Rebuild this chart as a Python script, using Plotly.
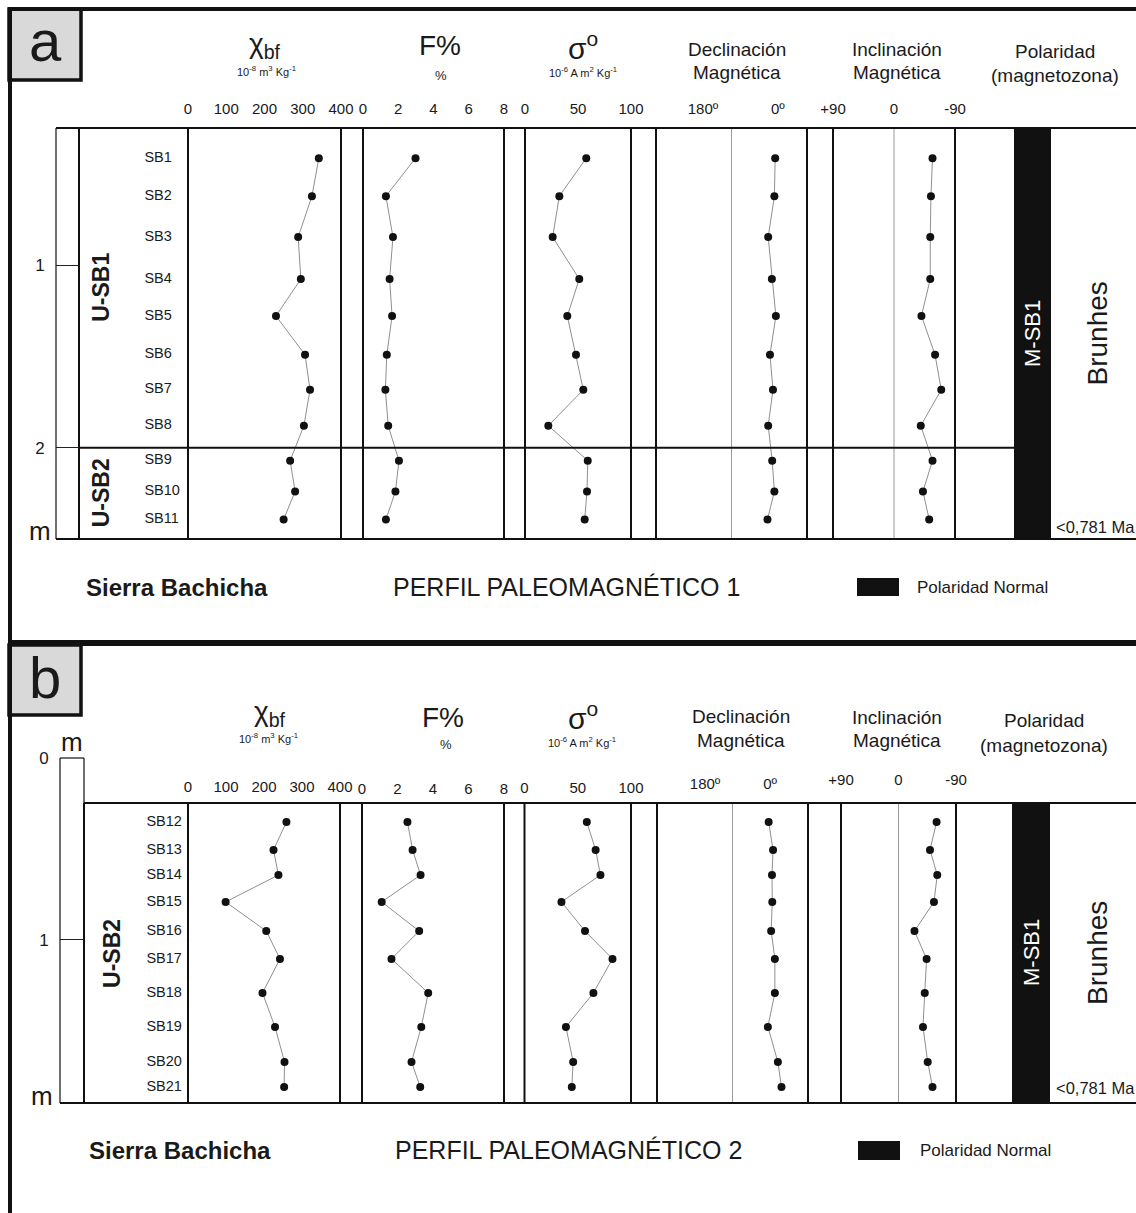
import plotly.graph_objects as go

# ---------------- data ----------------
# Panel a : Perfil paleomagnético 1
samples_a = ["SB1", "SB2", "SB3", "SB4", "SB5", "SB6", "SB7", "SB8", "SB9", "SB10", "SB11"]
depth_a = [0.415, 0.623, 0.847, 1.077, 1.279, 1.492, 1.683, 1.880, 2.071, 2.240, 2.393]
chi_a = [342, 324, 288, 295, 230, 306, 319, 303, 267, 280, 250]
f_a = [2.98, 1.30, 1.70, 1.51, 1.65, 1.35, 1.27, 1.43, 2.04, 1.84, 1.30]
sigma_a = [57.8, 32.4, 26.1, 51.2, 39.9, 48.1, 55.0, 22.0, 59.2, 58.5, 56.3]
dec_a = [6.5, 8.4, 23.3, 14.4, 4.8, 19.0, 11.8, 23.3, 13.7, 8.4, 25.0]
inc_a = [-56.8, -54.5, -53.5, -53.5, -40.5, -60.6, -69.7, -39.5, -56.8, -42.7, -51.9]
units_a = ["U-SB1", "U-SB2"]
unit_top_a = [0.25, 2.0]
unit_base_a = [2.0, 2.5]

# Panel b : Perfil paleomagnético 2
samples_b = ["SB12", "SB13", "SB14", "SB15", "SB16", "SB17", "SB18", "SB19", "SB20", "SB21"]
depth_b = [0.352, 0.505, 0.643, 0.791, 0.951, 1.104, 1.291, 1.478, 1.670, 1.808]
chi_b = [259, 225, 238, 99, 206, 242, 196, 229, 254, 253]
f_b = [2.56, 2.85, 3.30, 1.11, 3.22, 1.66, 3.73, 3.34, 2.79, 3.28]
sigma_b = [58.5, 66.8, 71.3, 34.7, 56.8, 82.6, 64.7, 38.9, 45.7, 44.4]
dec_b = [3.9, -8.3, -5.3, -6.1, -3.0, -13.3, -13.3, 6.1, -21.6, -31.6]
inc_b = [-59.6, -49.3, -60.7, -55.5, -25.0, -44.0, -41.1, -38.3, -45.7, -53.2]
units_b = ["U-SB2"]
unit_top_b = [0.247]
unit_base_b = [1.896]

# magnetozone / polarity
zone_name = "M-SB1"
chron_name = "Brunhes"
chron_age = "<0,781 Ma"

# tick labels
chi_ticks = [0, 100, 200, 300, 400]
f_ticks = [0, 2, 4, 6, 8]
sigma_ticks = [0, 50, 100]
dec_ticks = [180, 0]
dec_ticktext = ["180º", "0º"]
inc_ticks = [90, 0, -90]
inc_ticktext = ["+90", "0", "-90"]

# ---------------- figure helpers ----------------
W, H = 1136, 1213
FONT = "Liberation Sans, Arial, sans-serif"
INK = "#1a1a1a"


def fx(x):
    return x / W


def fy(y):
    return 1 - y / H


fig = go.Figure()
axes = {}
shapes = []
annotations = []
count = [0]


def add_axes(xpx, ypx, xrange, yrange, xextra=None, yextra=None):
    count[0] += 1
    s = "" if count[0] == 1 else str(count[0])
    base = dict(showgrid=False, zeroline=False, showline=False,
                showticklabels=False, ticks="", fixedrange=True, automargin=False)
    xa = dict(base, domain=[fx(xpx[0]), fx(xpx[1])], range=list(xrange), anchor="y" + s)
    ya = dict(base, domain=[fy(ypx[1]), fy(ypx[0])], range=list(yrange), anchor="x" + s)
    if xextra:
        xa.update(xextra)
    if yextra:
        ya.update(yextra)
    axes["xaxis" + s] = xa
    axes["yaxis" + s] = ya
    return "x" + s, "y" + s


def hline(y, x0, x1, w=2.0, c="#111"):
    shapes.append(dict(type="line", xref="paper", yref="paper", x0=fx(x0), x1=fx(x1),
                       y0=fy(y), y1=fy(y), line=dict(color=c, width=w)))


def vline(x, y0, y1, w=2.0, c="#111"):
    shapes.append(dict(type="line", xref="paper", yref="paper", x0=fx(x), x1=fx(x),
                       y0=fy(y0), y1=fy(y1), line=dict(color=c, width=w)))


def ann(x, y, text, size, bold=False, color=INK, xanchor="center"):
    annotations.append(dict(
        x=fx(x), xref="paper", y=fy(y), yref="paper",
        text="<b>%s</b>" % text if bold else text, showarrow=False,
        xanchor=xanchor, yanchor="middle",
        font=dict(family=FONT, size=size, color=color)))


def rot_ann(xpx, ydata, yref, text, size, color=INK):
    annotations.append(dict(x=fx(xpx), xref="paper", y=ydata, yref=yref, text=text,
                            showarrow=False, textangle=-90, xanchor="center", yanchor="middle",
                            font=dict(family=FONT, size=size, color=color)))


panels = [
    dict(label="a", box=(9, 81, 9, 80), lab_y=40,
         samples=samples_a, depth=depth_a, chi=chi_a, f=f_a, sig=sigma_a, dec=dec_a, inc=inc_a,
         units=units_a, utop=unit_top_a, ubase=unit_base_a,
         top=128, bot=539, dtop=128, dcol=(56, 79), ucol=(79, 188),
         cols=dict(chi=(188, 341), f=(363, 504), sig=(525, 631), dec=(656, 807), inc=(833, 955)),
         gaps=dict(chi=20, f=20, sig=20, dec=20, inc=20),
         bar=(1015, 1050), depth_top=0.25, depth_bot=2.5, dcol_top=0.25,
         dticks=[1, 2], dec_range=(293, -70), ulab_x=101, samp_x=0.6,
         heads=[(265, 46, "χ<sub>bf</sub>", 28), (266, 71, "10<sup>-8</sup> m<sup>3</sup> Kg<sup>-1</sup>", 11),
                (440, 46, "F%", 28), (441, 75, "%", 13),
                (583, 46, "σ<sup>o</sup>", 30), (583, 72, "10<sup>-6</sup> A m<sup>2</sup> Kg<sup>-1</sup>", 11),
                (737, 49, "Declinación", 19), (737, 72, "Magnética", 19),
                (897, 49, "Inclinación", 19), (897, 72, "Magnética", 19),
                (1055, 52, "Polaridad", 19), (1055, 76, "(magnetozona)", 19)],
         profile="PERFIL PALEOMAGNÉTICO 1", foot_y=587, sierra_x=177, prof_x=566,
         leg=(857, 899, 578, 596), leg_x=915, age_y=527,
         mlabels=[(40, 531, "m", 26)]),
    dict(label="b", box=(9, 81, 645, 715), lab_y=677,
         samples=samples_b, depth=depth_b, chi=chi_b, f=f_b, sig=sigma_b, dec=dec_b, inc=inc_b,
         units=units_b, utop=unit_top_b, ubase=unit_base_b,
         top=803, bot=1103, dtop=758, dcol=(60, 84), ucol=(84, 188),
         cols=dict(chi=(188, 340), f=(362, 504), sig=(524.5, 631), dec=(657, 808), inc=(841, 956)),
         gaps=dict(chi=17, f=15, sig=16, dec=20, inc=24),
         bar=(1013, 1049), depth_top=0.2473, depth_bot=1.896, dcol_top=0.0,
         dticks=[0, 1], dec_range=(313, -105), ulab_x=112, samp_x=0.6,
         heads=[(270, 713, "χ<sub>bf</sub>", 28), (268, 738, "10<sup>-8</sup> m<sup>3</sup> Kg<sup>-1</sup>", 11),
                (443, 718, "F%", 28), (446, 744, "%", 13),
                (583, 716, "σ<sup>o</sup>", 30), (582, 742, "10<sup>-6</sup> A m<sup>2</sup> Kg<sup>-1</sup>", 11),
                (741, 716, "Declinación", 19), (741, 740, "Magnética", 19),
                (897, 717, "Inclinación", 19), (897, 740, "Magnética", 19),
                (1044, 720, "Polaridad", 19), (1044, 745, "(magnetozona)", 19)],
         profile="PERFIL PALEOMAGNÉTICO 2", foot_y=1150, sierra_x=180, prof_x=568,
         leg=(858, 900, 1141, 1160), leg_x=918, age_y=1088,
         mlabels=[(72, 742, "m", 26), (42, 1096, "m", 26)]),
]

TICKFONT = dict(family=FONT, size=15, color=INK)


def draw_panel(p):
    top, bot = p["top"], p["bot"]
    yr = [p["depth_bot"], p["depth_top"]]

    # depth scale column (axis with the metre ticks)
    dx, dy = add_axes(p["dcol"], (p["dtop"], bot), (0, 1), [p["depth_bot"], p["dcol_top"]],
                      yextra=dict(showticklabels=True, tickvals=p["dticks"],
                                  ticktext=[str(v) for v in p["dticks"]],
                                  tickfont=dict(family=FONT, size=17, color=INK),
                                  ticks="outside", ticklen=7, tickcolor="rgba(0,0,0,0)",
                                  showgrid=True, gridcolor="#222", gridwidth=1.2))
    fig.add_trace(go.Scatter(x=[None], y=[None], mode="markers", xaxis=dx, yaxis=dy,
                             hoverinfo="skip", showlegend=False))

    # unit / sample column
    ux, uy = add_axes(p["ucol"], (top, bot), (0, 1), yr)
    fig.add_trace(go.Scatter(x=[p["samp_x"]] * len(p["samples"]), y=p["depth"], mode="text",
                             text=p["samples"], textposition="middle right",
                             textfont=dict(family=FONT, size=14.5, color=INK),
                             xaxis=ux, yaxis=uy, hoverinfo="skip"))

    cols = [("chi", p["chi"], (0, 400), chi_ticks, [str(v) for v in chi_ticks]),
            ("f", p["f"], (0, 8), f_ticks, [str(v) for v in f_ticks]),
            ("sig", p["sig"], (0, 100), sigma_ticks, [str(v) for v in sigma_ticks]),
            ("dec", p["dec"], p["dec_range"], dec_ticks, dec_ticktext),
            ("inc", p["inc"], (90, -90), inc_ticks, inc_ticktext)]
    for key, vals, rng, tv, tt in cols:
        gap = p["gaps"][key]
        cx, cy = add_axes(p["cols"][key], (top, bot), rng, yr,
                          xextra=dict(side="top", showticklabels=True, tickvals=tv, ticktext=tt,
                                      ticks="outside", ticklen=max(gap - 13, 0),
                                      tickcolor="rgba(0,0,0,0)", tickfont=TICKFONT))
        fig.add_trace(go.Scatter(x=vals, y=p["depth"], mode="lines+markers",
                                 line=dict(color="#8f8f8f", width=1),
                                 marker=dict(color="#111", size=8),
                                 xaxis=cx, yaxis=cy, cliponaxis=False, hoverinfo="skip"))
        if key in ("dec", "inc"):
            c0, c1 = p["cols"][key]
            vline((c0 + c1) / 2, top, bot, w=1, c="#9a9a9a")

    # unit names and boundaries
    for i, name in enumerate(p["units"]):
        rot_ann(p["ulab_x"], (p["utop"][i] + p["ubase"][i]) / 2, uy, "<b>%s</b>" % name, 23)
        if i < len(p["units"]) - 1:
            shapes.append(dict(type="line", xref="paper", yref=uy, x0=fx(p["ucol"][0]), x1=fx(p["bar"][0]),
                               y0=p["ubase"][i], y1=p["ubase"][i], line=dict(color="#111", width=2)))

    # magnetozone bar
    shapes.append(dict(type="rect", xref="paper", yref=uy, x0=fx(p["bar"][0]), x1=fx(p["bar"][1]),
                       y0=p["depth_top"], y1=p["depth_bot"], fillcolor="#111", line=dict(width=0)))
    zmid = (p["depth_top"] + p["depth_bot"]) / 2
    rot_ann((p["bar"][0] + p["bar"][1]) / 2, zmid, uy, zone_name, 22, color="white")
    rot_ann(1097, zmid, uy, chron_name, 28)
    ann(1054, p["age_y"], chron_age, 16.5, xanchor="left")

    # frame lines
    hline(top, p["ucol"][0] if p["dtop"] != top else p["dcol"][0], W + 5)
    hline(bot, p["dcol"][0], W + 5)
    hline(p["dtop"], p["dcol"][0], p["dcol"][1], w=1.2)
    vline(p["dcol"][0], p["dtop"], bot, w=1.2)
    vline(p["dcol"][1], p["dtop"], bot, w=1.2)
    vline(p["ucol"][0], top, bot)
    for key in ("chi", "f", "sig", "dec", "inc"):
        c0, c1 = p["cols"][key]
        vline(c0, top, bot)
        vline(c1, top, bot)
    vline(p["bar"][0], top, bot)
    vline(p["bar"][1], top, bot)

    # headers
    for (x, y, t, s) in p["heads"]:
        ann(x, y, t, s)
    for (x, y, t, s) in p["mlabels"]:
        ann(x, y, t, s)

    # footer
    ann(p["sierra_x"], p["foot_y"], "Sierra Bachicha", 24, bold=True)
    ann(p["prof_x"], p["foot_y"], p["profile"], 25)
    l0, l1, t0, t1 = p["leg"]
    shapes.append(dict(type="rect", xref="paper", yref="paper", x0=fx(l0), x1=fx(l1), y0=fy(t1), y1=fy(t0),
                       fillcolor="#111", line=dict(width=0)))
    ann(p["leg_x"], p["foot_y"], "Polaridad Normal", 17, xanchor="left")

    # panel letter box
    b0, b1, bt, bb = p["box"]
    shapes.append(dict(type="rect", xref="paper", yref="paper", x0=fx(b0), x1=fx(b1), y0=fy(bb), y1=fy(bt),
                       fillcolor="#d9d9d9", line=dict(color="#111", width=3.5)))
    ann((b0 + b1) / 2, p["lab_y"], p["label"], 58)


for p in panels:
    draw_panel(p)

# outer frame
vline(10, 8, H + 5, w=4)
hline(9, 8, W + 5, w=4)
hline(643, 8, W + 5, w=6)

fig.update_layout(width=W, height=H, margin=dict(l=0, r=0, t=0, b=0, pad=0), autosize=False,
                  paper_bgcolor="white", plot_bgcolor="white", showlegend=False,
                  shapes=shapes, annotations=annotations, **axes)
fig.write_html("out.html", config={"displayModeBar": False},
               post_script="document.body.style.margin='0';document.body.style.overflow='hidden';")
